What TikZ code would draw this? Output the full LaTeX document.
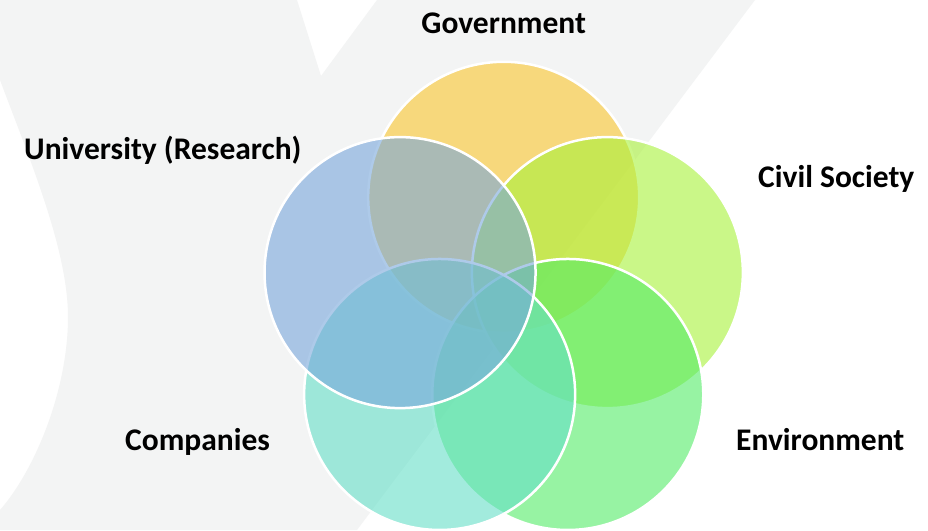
\documentclass[tikz,border=0pt]{standalone}
\usepackage{fontspec}
\setmainfont{Carlito}
\definecolor{bggray}{RGB}{243,244,244}
\definecolor{govcol}{RGB}{250,198,44}
\definecolor{civcol}{RGB}{168,242,58}
\definecolor{envcol}{RGB}{83,235,102}
\definecolor{compcol}{RGB}{101,223,199}
\definecolor{unicol}{RGB}{120,167,219}
\tikzset{
  areaname/.style={font=\fontsize{31.5}{36}\selectfont\bfseries, text=black, inner sep=0pt},
  sector/.style={draw=white, line width=2.5pt, fill opacity=0.6}
}
\begin{document}
\begin{tikzpicture}[x=1pt,y=1pt]
\useasboundingbox (0,0) rectangle (928,530);
\fill[white] (0,0) rectangle (928,530);
% light background shape
\fill[bggray] (0,530) -- (297,530) -- (321,454) -- (377,530) -- (755,530) -- (357,0) -- (0,0) -- (0,20)
  .. controls (35,60) and (68,140) .. (68,213) .. controls (68,280) and (30,370) .. (0,450) -- cycle;
% five overlapping circles
\coordinate (mid) at (503.7,223.7);
\foreach \ang/\col in {90/govcol,18/civcol,-54/envcol,234/compcol,162/unicol}
{
  \draw[sector, fill=\col] (mid) ++(\ang:109pt) circle[radius=135.5pt];
}
\node [areaname, anchor=base] (govname) at (503.7,496) {Government};
\node [areaname, anchor=base west] (uniname) at (24,370) {University (Research)};
\node [areaname, anchor=base west] (civname) at (758,342) {Civil Society};
\node [areaname, anchor=base west] (compname) at (125,80) {Companies};
\node [areaname, anchor=base west] (envname) at (736,80) {Environment};
\end{tikzpicture}
\end{document}
